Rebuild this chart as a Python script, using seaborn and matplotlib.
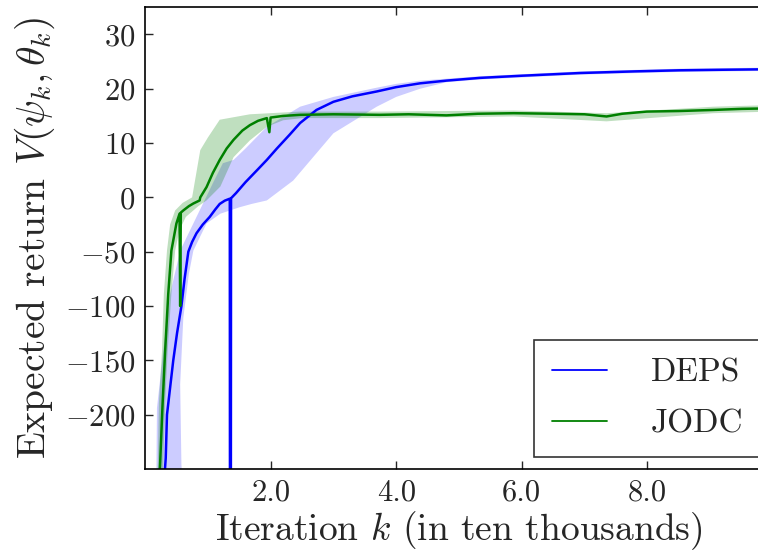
import numpy as np
import pandas as pd
import matplotlib
matplotlib.use("Agg")
import matplotlib.pyplot as plt
import seaborn as sns
from matplotlib.ticker import FixedLocator, FormatStrFormatter

# Données (itérations en dizaines de milliers)
deps_x = [0.30, 0.33, 0.35, 0.40, 0.45, 0.51, 0.58, 0.63, 0.69, 0.75, 0.82, 0.92,
          1.03, 1.12, 1.19, 1.27, 1.35, 1.36, 1.37, 1.45, 1.60, 1.80, 1.94, 2.10,
          2.30, 2.47, 2.73, 3.00, 3.30, 3.69, 4.00, 4.38, 4.80, 5.33, 6.00, 6.93,
          7.80, 8.52, 9.20, 10.0]
deps_y = [-265, -240, -200, -175, -150, -125, -100, -75, -50, -41, -33, -25,
          -18, -11, -6, -3, -1.2, -1000, -0.8, 0.8, 2.8, 5.2, 6.9, 9.0,
          11.5, 13.7, 16.1, 17.6, 18.6, 19.5, 20.3, 21.0, 21.5, 22.0, 22.4, 22.9,
          23.2, 23.4, 23.5, 23.6]

deps_hi_x = [0.18, 0.19, 0.29, 0.40, 0.56, 0.82, 1.08, 1.24, 1.41, 1.60, 1.94,
             2.47, 3.00, 3.69, 4.00, 4.38, 5.33, 6.93, 8.52, 10.0]
deps_hi_y = [-265, -194, -142, -89, -49, -18, 2.6, 6.3, 6.9, 9.0, 13.0,
             16.7, 18.5, 20.2, 20.9, 21.5, 22.3, 23.2, 23.7, 23.9]
deps_lo_x = [0.60, 0.58, 0.56, 0.61, 0.70, 0.77, 0.98, 1.20, 1.51, 1.70, 1.94,
             2.36, 3.00, 3.69, 4.00, 4.38, 4.80, 5.33, 6.93, 8.52, 10.0]
deps_lo_y = [-265, -246, -172, -111, -70, -49, -24, -15, -9, -6, -2.8,
             3.1, 11.8, 16.7, 18.5, 20.0, 21.2, 21.7, 22.6, 23.1, 23.3]

jodc_x = [0.22, 0.24, 0.28, 0.32, 0.37, 0.42, 0.50, 0.55, 0.56, 0.57, 0.61, 0.70,
          0.77, 0.87, 0.88, 0.98, 1.08, 1.19, 1.30, 1.41, 1.55, 1.67, 1.80, 1.94,
          1.98, 2.00, 2.20, 2.47, 3.00, 3.74, 4.20, 4.80, 5.30, 5.87, 6.50, 7.00,
          7.35, 7.60, 7.99, 8.50, 9.05, 9.50, 10.0]
jodc_y = [-265, -246, -190, -142, -89, -49, -24, -15, -100, -14, -12, -8,
          -5.6, -2.8, 0.0, 1.9, 4.5, 6.9, 9.0, 10.6, 12.3, 13.3, 14.1, 14.6,
          12.0, 14.7, 15.0, 15.2, 15.3, 15.2, 15.3, 15.1, 15.4, 15.5, 15.4, 15.3,
          14.9, 15.4, 15.8, 15.9, 16.1, 16.3, 16.4]

jodc_hi_x = [0.20, 0.22, 0.27, 0.30, 0.35, 0.40, 0.48, 0.60, 0.75, 0.88, 1.00,
             1.19, 1.67, 2.47, 3.74, 5.87, 7.35, 9.05, 10.0]
jodc_hi_y = [-265, -190, -142, -89, -49, -25, -12, -5, 0.0, 8.7, 11.0,
             14.3, 15.3, 15.8, 15.8, 16.0, 15.5, 16.7, 17.0]
jodc_lo_x = [0.28, 0.32, 0.36, 0.42, 0.48, 0.55, 0.65, 0.85, 0.98, 1.20, 1.41,
             1.67, 1.94, 2.20, 2.50, 3.74, 5.87, 7.35, 9.05, 10.0]
jodc_lo_y = [-265, -190, -142, -89, -49, -30, -18, -8, -2.8, 2.0, 7.4,
             10.5, 13.0, 14.2, 14.6, 14.6, 14.9, 14.0, 15.5, 15.8]

y_ticks = [-200, -150, -100, -50, 0, 10, 20, 30]
x_ticks = [2, 4, 6, 8]

sns.set_style("white")
plt.rcParams["font.family"] = ["cmr10"]
plt.rcParams["mathtext.fontset"] = "cm"
plt.rcParams["axes.formatter.use_mathtext"] = True


# échelle linéaire par morceaux : 10 unités/graduation au-dessus de 0, 50 en dessous
def fwd(v):
    v = np.asarray(v, dtype=float)
    return np.where(v >= 0, v / 10.0, v / 50.0)


def inv(v):
    v = np.asarray(v, dtype=float)
    return np.where(v >= 0, v * 10.0, v * 50.0)


df = pd.concat([
    pd.DataFrame({"x": deps_x, "y": deps_y, "algo": "DEPS"}),
    pd.DataFrame({"x": jodc_x, "y": jodc_y, "algo": "JODC"}),
])

fig = plt.figure(figsize=(7.58, 5.52), dpi=100)
ax = fig.add_axes([0.1913, 0.1504, 0.8285, 0.8364])
ax.set_yscale("function", functions=(fwd, inv))

ax.fill(np.concatenate([deps_hi_x, deps_lo_x[::-1]]),
        np.concatenate([deps_hi_y, deps_lo_y[::-1]]),
        color="#0000ff", alpha=0.2, lw=0)
ax.fill(np.concatenate([jodc_hi_x, jodc_lo_x[::-1]]),
        np.concatenate([jodc_hi_y, jodc_lo_y[::-1]]),
        color="#008000", alpha=0.25, lw=0)

sns.lineplot(data=df, x="x", y="y", hue="algo", estimator=None, sort=False,
             palette={"DEPS": "#0000ff", "JODC": "#008000"}, lw=1.8, ax=ax)

ax.set_xlim(0, 10)
ax.set_ylim(-250, 35)
ax.xaxis.set_major_locator(FixedLocator(x_ticks))
ax.xaxis.set_major_formatter(FormatStrFormatter("%.1f"))
ax.yaxis.set_major_locator(FixedLocator(y_ticks))
ax.yaxis.set_minor_locator(FixedLocator([]))
ax.tick_params(direction="in", length=6, width=1, labelsize=22, pad=7,
               top=True, right=True, bottom=True, left=True)
for s in ax.spines.values():
    s.set_color("black")
    s.set_linewidth(1.2)

ax.set_xlabel(r"Iteration $k$ (in ten thousands)", fontsize=27, labelpad=2)
ax.set_ylabel(r"Expected return $V(\psi_k, \theta_k)$", fontsize=28.5, labelpad=6)

leg = ax.legend(loc="lower right", fontsize=24, frameon=True, fancybox=False,
                edgecolor="black", borderpad=0.55, labelspacing=0.65,
                handlelength=1.65, handletextpad=1.3, borderaxespad=0.35,
                title=None)
leg.get_frame().set_linewidth(1.2)
for h in leg.get_lines():
    h.set_linewidth(1.3)

fig.savefig("out.png", dpi=100)
